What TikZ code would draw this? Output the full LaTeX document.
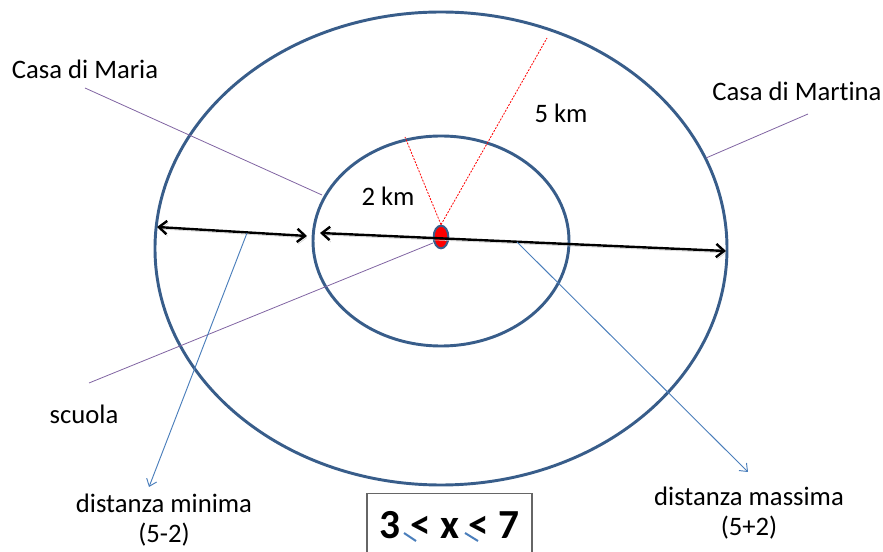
\documentclass[tikz,border=0pt]{standalone}
\usepackage{fontspec}
\setmainfont{Carlito}[Ligatures=NoCommon]
\usetikzlibrary{arrows.meta,shapes.geometric}
\definecolor{ringBlue}{HTML}{385D8A}
\definecolor{linkPurple}{HTML}{8064A2}
\definecolor{noteBlue}{HTML}{4A7EBB}
\tikzset{
  ring/.style={draw=ringBlue, line width=2.2pt},
  dot/.style={ellipse, draw=ringBlue, fill=red, line width=1.5pt,
              minimum width=11pt, minimum height=17pt, inner sep=0pt},
  raydash/.style={draw=red, line width=0.6pt, dash pattern=on 1.5pt off 1pt},
  lbl/.style={font=\fontsize{20}{22.5}\selectfont, align=center, inner sep=0pt},
  link/.style={draw=linkPurple, line width=0.6pt},
  note/.style={-{Straight Barb[length=5pt,width=8pt]}, draw=noteBlue, line width=0.7pt},
  span/.style={{Straight Barb[length=6pt,width=10pt]}-{Straight Barb[length=6pt,width=10pt]},
              line width=1.8pt,
              preaction={draw=black!20, transform canvas={shift={(1pt,-1.5pt)}}}},
  box/.style={draw=black!60, line width=0.8pt, anchor=north,
              font=\fontsize{31}{31}\selectfont\bfseries,
              minimum width=123.75pt, text height=18.75pt, text depth=0pt, inner ysep=15pt},
  squig/.style={draw=noteBlue, line width=1.5pt},
}

\begin{document}
\begin{tikzpicture}[x=0.75pt,y=-0.75pt]
  \useasboundingbox (0,0) rectangle (883,552);
  % the two circles round the school
  \draw[ring] (441,248.5) ellipse [x radius=286, y radius=236.5];
  \draw[ring] (441,241) ellipse [x radius=128, y radius=105];
  \node[dot] (school) at (441,237) {};
  % radii
  \coordinate (r2) at (405,137);
  \coordinate (r5) at (547,38);
  \draw[raydash] (school.north) -- (r2);
  \draw[raydash] (school.north) -- (r5);
  \node[lbl] (two) at (388,196) {2 km};
  \node[lbl] (five) at (561,113) {5 km};
  % min and max distance
  \coordinate (minL) at (157,227);
  \coordinate (minR) at (307,236);
  \coordinate (maxL) at (320,233);
  \coordinate (maxR) at (726,251);
  \draw[span] (minL) -- (minR);
  \draw[span] (maxL) -- (maxR);
  % houses and school
  \node[lbl] (maria) at (85,69) {Casa di Maria};
  \node[lbl] (martina) at (797,91) {Casa di Martina};
  \node[lbl] (scuola) at (84,414) {scuola};
  \coordinate (mariaA) at (85,88);
  \coordinate (mariaB) at (322,195);
  \coordinate (martinaA) at (808,114);
  \coordinate (martinaB) at (706,158);
  \coordinate (scuolaA) at (89,383);
  \coordinate (scuolaB) at (433,243);
  \draw[link] (mariaA) -- (mariaB);
  \draw[link] (martinaA) -- (martinaB);
  \draw[link] (scuolaA) -- (scuolaB);
  % notes
  \node[lbl] (dmin) at (164,520) {distanza minima\\(5-2)};
  \node[lbl] (dmax) at (749,513) {distanza massima\\(5+2)};
  \coordinate (minFoot) at (247,233);
  \coordinate (minTip) at (149,487);
  \coordinate (maxFoot) at (517,242);
  \coordinate (maxTip) at (748,472);
  \draw[note] (minFoot) -- (minTip);
  \draw[note] (maxFoot) -- (maxTip);
  % result
  \node[box] (ineq) at (449.5,493) {3 < x < 7};
  \draw[squig] (404,533) -- (416,541);
  \draw[squig] (465,533) -- (478,541);
\end{tikzpicture}
\end{document}
